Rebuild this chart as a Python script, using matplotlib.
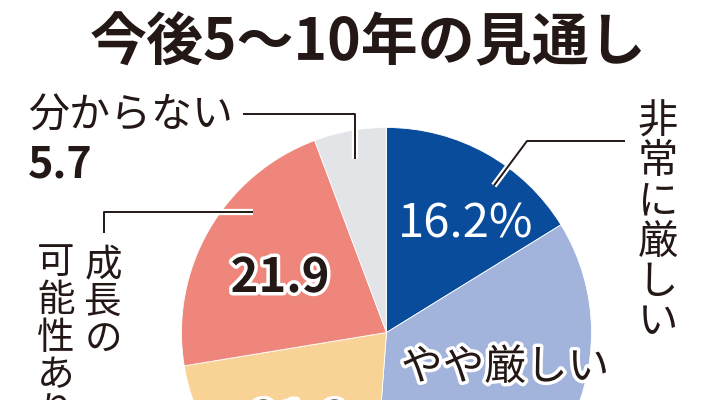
import matplotlib
matplotlib.use("Agg")
import matplotlib.pyplot as plt
import matplotlib.patheffects as pe
import numpy as np

plt.rcParams['font.family'] = ['Noto Sans CJK JP', 'DejaVu Sans']

# ---- data ----
title = "今後5〜10年の見通し"
categories = ["非常に厳しい", "やや厳しい", "変わらない", "成長の可能性あり", "分からない"]
values = [16.2, 35.0, 21.2, 21.9, 5.7]
value_labels = ["16.2%", "35.0", "21.2", "21.9", "5.7"]
colors = ["#0a4c9c", "#a3b4dc", "#f9d396", "#ee867b", "#e3e4e7"]

W, H = 711, 400
fig = plt.figure(figsize=(W / 100, H / 100), dpi=100)
ax = fig.add_axes([0, 0, 1, 1])
ax.set_xlim(0, W)
ax.set_ylim(0, H)
ax.set_aspect('equal')
ax.axis('off')

def Y(y):  # pixel-from-top -> data
    return H - y

cx, cy, R = 386.5, 332.5, 205
ax.pie(values, colors=colors, startangle=90, counterclock=False,
       center=(cx, Y(cy)), radius=R,
       wedgeprops=dict(linewidth=0.6, edgecolor='white'))
ax.set_xlim(0, W)
ax.set_ylim(0, H)

# angle helpers (clockwise from top)
cum = np.cumsum([0] + values) / 100 * 360
def polar(theta_deg, r):
    t = np.deg2rad(theta_deg)
    return cx + r * np.sin(t), cy - r * np.cos(t)

outline = [pe.withStroke(linewidth=5, foreground='white')]
line_fx = [pe.Stroke(linewidth=4.5, foreground='white'), pe.Normal()]
tc = '#231815'

# title
ax.text(368, Y(43), title, ha='center', va='center', fontsize=41,
        fontweight='bold', color=tc)

# 非常に厳しい: vertical label on right with leader
a0 = polar(cum[0] + 0.62 * (cum[1] - cum[0]), 182)
ax.plot([a0[0], 527, 625], [Y(a0[1]), Y(141), Y(141)], color=tc, lw=1.4,
        path_effects=line_fx, solid_capstyle='butt')
for i, ch in enumerate(categories[0]):
    ax.text(658, Y(122 + i * 40), ch, ha='center', va='center', fontsize=29, color=tc)

# value inside blue
ax.text(466, Y(224), value_labels[0], ha='center', va='center', fontsize=34,
        color='white')

# やや厳しい inside light blue
ax.text(505, Y(368), categories[1], ha='center', va='center', fontsize=30,
        color=tc, path_effects=outline)

# yellow value (mostly cropped)
ax.text(300, Y(421), value_labels[2], ha='center', va='center', fontsize=34,
        fontweight='bold', color=tc, path_effects=outline)

# 21.9 inside red
ax.text(280, Y(278), value_labels[3], ha='center', va='center', fontsize=34,
        fontweight='bold', color=tc, path_effects=outline)

# 成長の可能性あり: vertical in two columns with leader
a3 = polar(cum[3] + 0.66 * (cum[4] - cum[3]), 181)
ax.plot([a3[0], 104, 104], [Y(212), Y(212), Y(233)], color=tc, lw=1.4,
        path_effects=line_fx, solid_capstyle='butt')
name = categories[3]
col1, col2 = name[:3], name[3:]
for i, ch in enumerate(col1):
    ax.text(103, Y(265 + i * 37.5), ch, ha='center', va='center', fontsize=27, color=tc)
for i, ch in enumerate(col2):
    ax.text(56, Y(263 + i * 37.5), ch, ha='center', va='center', fontsize=27, color=tc)

# 分からない with leader
a4 = polar(cum[4] + 0.5 * (cum[5] - cum[4]), 176)
ax.plot([243, a4[0], a4[0]], [Y(114), Y(114), Y(a4[1])], color=tc, lw=1.4,
        path_effects=line_fx, solid_capstyle='butt')
ax.text(28, Y(116), categories[4], ha='left', va='center', fontsize=29.5, color=tc)
ax.text(28, Y(164), value_labels[4], ha='left', va='center', fontsize=31,
        fontweight='bold', color=tc)

fig.savefig("out.png", dpi=100)
